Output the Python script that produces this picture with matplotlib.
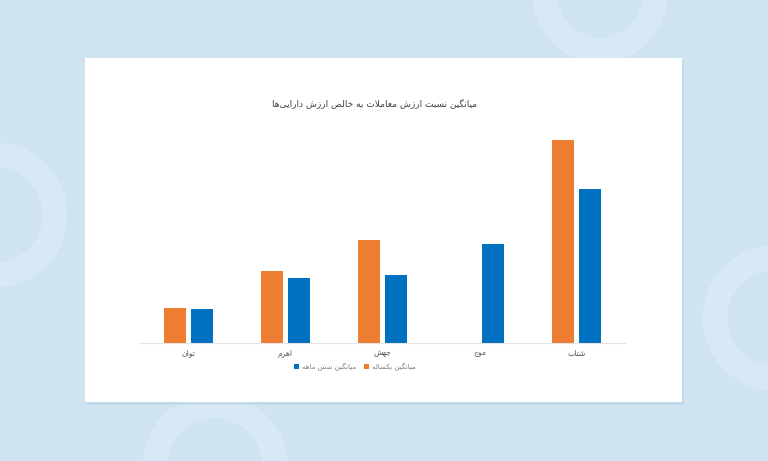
import numpy as np
import matplotlib.pyplot as plt
from matplotlib.patches import Rectangle, Circle

# data (no value axis shown, units are relative)
categories = ["توان", "اهرم", "جهش", "موج", "شتاب"]
one_year = [35, 72, 103, 0, 203]
six_month = [34, 65, 68, 99, 154]
series_names = ["میانگین یکساله", "میانگین شش ماهه"]
title = "میانگین نسبت ارزش معاملات به خالص ارزش دارایی‌ها"

# minimal arabic/persian shaping: (isolated, final, initial, medial)
FORMS = {
    "ا": (0xFE8D, 0xFE8E, None, None),
    "ب": (0xFE8F, 0xFE90, 0xFE91, 0xFE92),
    "ت": (0xFE95, 0xFE96, 0xFE97, 0xFE98),
    "ج": (0xFE9D, 0xFE9E, 0xFE9F, 0xFEA0),
    "خ": (0xFEA5, 0xFEA6, 0xFEA7, 0xFEA8),
    "د": (0xFEA9, 0xFEAA, None, None),
    "ر": (0xFEAD, 0xFEAE, None, None),
    "ز": (0xFEAF, 0xFEB0, None, None),
    "س": (0xFEB1, 0xFEB2, 0xFEB3, 0xFEB4),
    "ش": (0xFEB5, 0xFEB6, 0xFEB7, 0xFEB8),
    "ص": (0xFEB9, 0xFEBA, 0xFEBB, 0xFEBC),
    "ع": (0xFEC9, 0xFECA, 0xFECB, 0xFECC),
    "ل": (0xFEDD, 0xFEDE, 0xFEDF, 0xFEE0),
    "م": (0xFEE1, 0xFEE2, 0xFEE3, 0xFEE4),
    "ن": (0xFEE5, 0xFEE6, 0xFEE7, 0xFEE8),
    "ه": (0xFEE9, 0xFEEA, 0xFEEB, 0xFEEC),
    "و": (0xFEED, 0xFEEE, None, None),
    "ی": (0xFBFC, 0xFBFD, 0xFBFE, 0xFBFF),
    "ک": (0xFB8E, 0xFB8F, 0xFB90, 0xFB91),
    "گ": (0xFB92, 0xFB93, 0xFB94, 0xFB95),
}


def shape(text):
    chars = list(text)
    out = []
    i = 0
    while i < len(chars):
        c = chars[i]
        if c not in FORMS:
            if c != "\u200c":
                out.append(c)
            i += 1
            continue
        prev = chars[i - 1] if i > 0 else None
        join_prev = prev in FORMS and FORMS[prev][2] is not None
        if c == "ل" and i + 1 < len(chars) and chars[i + 1] == "ا":
            out.append(chr(0xFEFC if join_prev else 0xFEFB))
            i += 2
            continue
        nxt = chars[i + 1] if i + 1 < len(chars) else None
        join_next = FORMS[c][2] is not None and nxt in FORMS
        iso, fin, ini, med = FORMS[c]
        if join_prev and join_next:
            g = med
        elif join_prev:
            g = fin
        elif join_next:
            g = ini
        else:
            g = iso
        out.append(chr(g))
        i += 1
    return "".join(out)[::-1]


plt.rcParams["font.family"] = ["DejaVu Sans"]

fig = plt.figure(figsize=(7.68, 4.61), dpi=100)
fig.patch.set_facecolor("#cfe4f0")

# background decoration rings and card
W, H = 768, 461
deco = fig.add_axes([0, 0, 1, 1])
deco.set_xlim(0, W)
deco.set_ylim(H, 0)
deco.axis("off")
ring = "#d6e9f4"
for cx, cy, r in [(-5, 215, 60), (775, 318, 60), (600, -5, 55), (215, 466, 60)]:
    deco.add_patch(Circle((cx, cy), r, fill=False, lw=18, ec=ring))
deco.add_patch(Rectangle((87, 61), 597, 344, color="#bcd5e3", alpha=0.6, lw=0))
deco.add_patch(Rectangle((85, 58), 597, 344, color="white", lw=0))

ax = fig.add_axes([140 / W, (H - 343) / H, 485 / W, 223 / H])
x = np.arange(len(categories))
w = 0.227
ax.bar(x - 0.144, one_year, w, color="#ED7D31", label=shape(series_names[0]))
ax.bar(x + 0.144, six_month, w, color="#0070C0", label=shape(series_names[1]))
ax.set_xlim(-0.5, len(categories) - 0.5)
ax.set_ylim(0, 223)
ax.set_facecolor("none")
for s in ["top", "right", "left"]:
    ax.spines[s].set_visible(False)
ax.spines["bottom"].set_color("#e3e3e3")
ax.spines["bottom"].set_linewidth(0.8)
ax.set_yticks([])
ax.set_xticks(x, [shape(c) for c in categories])
ax.tick_params(axis="x", length=0, pad=4, labelsize=5.5, labelcolor="#595959")

fig.text(375 / W, 1 - 103 / H, shape(title), ha="center", va="center",
         fontsize=6.5, color="#404040")

handles, labels = ax.get_legend_handles_labels()
fig.legend(handles[::-1], labels[::-1], ncol=2, loc="center",
           bbox_to_anchor=(355 / W, 1 - 367 / H), frameon=False,
           fontsize=5, labelcolor="#7f7f7f", handlelength=0.7,
           handleheight=0.7, handletextpad=0.4, columnspacing=1.2)

fig.savefig("out.png", dpi=100, facecolor=fig.get_facecolor())
